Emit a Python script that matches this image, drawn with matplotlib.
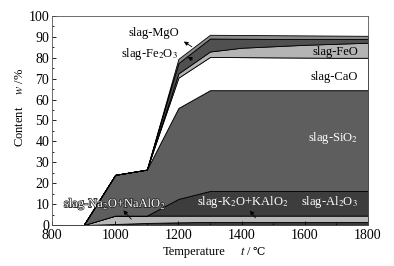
import matplotlib
matplotlib.use('Agg')
import matplotlib.pyplot as plt
import matplotlib.patheffects as pe
from matplotlib.ticker import MultipleLocator

plt.rcParams['font.family'] = ['Liberation Serif', 'DejaVu Serif']
plt.rcParams['mathtext.fontset'] = 'stix'
plt.rcParams['font.size'] = 9

# temperature, degC
temps = [800, 900, 1000, 1100, 1200, 1300, 1400, 1500, 1600, 1700, 1800]

# content of each slag phase, w/% (stacked from bottom to top)
k2o_kalo2 = [0, 0, 0.5, 1.0, 1.3, 1.5, 1.5, 1.5, 1.5, 1.5, 1.5]
na2o_naalo2 = [0, 0, 4.0, 3.5, 3.2, 3.0, 3.0, 3.0, 3.0, 3.0, 3.0]
al2o3 = [0, 0, 0, 0, 8.0, 11.8, 11.8, 11.8, 11.8, 11.8, 11.8]
sio2 = [0, 0, 19.5, 22.0, 43.5, 48.2, 48.2, 48.2, 48.2, 48.2, 48.2]
cao = [0, 0, 0, 0, 14.5, 15.9, 15.8, 15.7, 15.6, 15.5, 15.5]
feo = [0, 0, 0, 0, 2.0, 2.6, 4.5, 5.3, 6.1, 6.7, 7.2]
fe2o3 = [0, 0, 0, 0, 5.0, 6.2, 4.3, 3.5, 2.8, 2.3, 1.8]
mgo = [0, 0, 0, 0, 2.0, 1.8, 1.8, 1.8, 1.7, 1.6, 1.5]

layers = [k2o_kalo2, na2o_naalo2, al2o3, sio2, cao, feo, fe2o3, mgo]
colors = ['#3a3a3a', '#b8b8b8', '#3d3d3d', '#5e5e5e', '#ffffff', '#b4b4b4', '#505050', '#8a8a8a']

fig = plt.figure(figsize=(3.94, 2.66), dpi=100)
ax = fig.add_axes([0.132, 0.154, 0.802, 0.786])

ax.stackplot(temps, *layers, colors=colors, edgecolor='black', linewidth=0.6)

ax.set_xlim(800, 1800)
ax.set_ylim(0, 100)
ax.xaxis.set_major_locator(MultipleLocator(200))
ax.xaxis.set_minor_locator(MultipleLocator(100))
ax.yaxis.set_major_locator(MultipleLocator(10))
ax.yaxis.set_minor_locator(MultipleLocator(5))
ax.tick_params(which='both', direction='in', top=False, right=False, width=0.6, labelsize=10)
ax.tick_params(which='major', length=3, pad=2)
ax.tick_params(axis='x', which='major', pad=3)
ax.tick_params(which='minor', length=1.5)
for s in ax.spines.values():
    s.set_linewidth(0.6)
    s.set_color('#555555')

# axis titles (x title in pieces so the ℃ sign gets a font that has it)
ax.text(0.449, -0.129, 'Temperature', transform=ax.transAxes, ha='center', va='center')
ax.text(0.633, -0.129, '$t$ /', transform=ax.transAxes, ha='right', va='center')
ax.text(0.633, -0.129, '℃', transform=ax.transAxes, ha='left', va='center',
        family=['DejaVu Serif'], fontsize=8)
ax.set_ylabel('Content    $w$ /%')
ax.yaxis.set_label_coords(-0.082, 0.56)

# labels
ax.text(1123, 92, 'slag-MgO', ha='center', va='center')
ax.text(1110, 82, 'slag-Fe$_2$O$_3$', ha='center', va='center')
ax.text(1768, 83, 'slag-FeO', ha='right', va='center')
ax.text(1768, 71, 'slag-CaO', ha='right', va='center')
ax.text(1768, 41.5, 'slag-SiO$_2$', ha='right', va='center', color='white')
ax.text(1000, 10, 'slag-Na$_2$O+NaAlO$_2$', ha='center', va='center', color='white',
        path_effects=[pe.withStroke(linewidth=1.0, foreground='#222222')])
ax.text(1404, 11, 'slag-K$_2$O+KAlO$_2$', ha='center', va='center', color='white')
ax.text(1768, 11, 'slag-Al$_2$O$_3$', ha='right', va='center', color='white')

arrow = dict(arrowstyle='-|>', color='black', lw=0.6, mutation_scale=6)
ax.annotate('', xy=(1210, 88.5), xytext=(1250, 84.5), arrowprops=arrow)
ax.annotate('', xy=(1222, 81), xytext=(1252, 78.5), arrowprops=arrow)
ax.annotate('', xy=(1020, 8), xytext=(1057, 1.8), arrowprops=arrow)
ax.annotate('', xy=(1421, 8), xytext=(1449, 2.4), arrowprops=arrow)

fig.savefig('out.png', dpi=100)
